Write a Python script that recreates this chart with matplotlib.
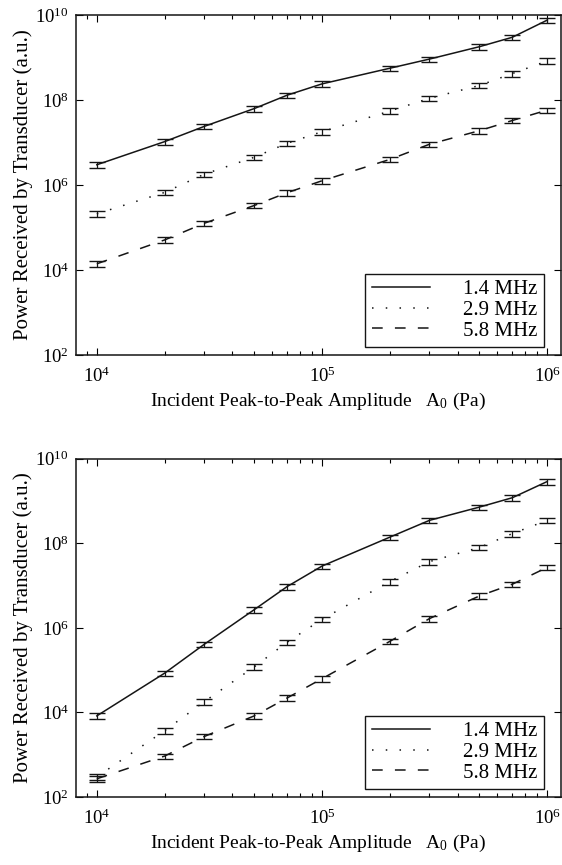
import numpy as np
import matplotlib
matplotlib.use("Agg")
import matplotlib.pyplot as plt
from matplotlib.ticker import LogLocator, NullFormatter, FixedLocator

plt.rcParams["font.family"] = ["Liberation Serif", "DejaVu Serif"]
plt.rcParams["mathtext.fontset"] = "custom"
plt.rcParams["mathtext.rm"] = "Liberation Serif"
plt.rcParams["mathtext.it"] = "Liberation Serif:italic"

# incident amplitude (Pa)
amplitude = [1e4, 2e4, 3e4, 5e4, 7e4, 1e5, 2e5, 3e5, 5e5, 7e5, 1e6]
freq_labels = ["1.4 MHz", "2.9 MHz", "5.8 MHz"]

# received power, upper panel
upper_14 = [3.0e6, 1.05e7, 2.4e7, 6.3e7, 1.3e8, 2.4e8, 5.6e8, 9.2e8, 1.8e9, 3.0e9, 7.6e9]
upper_29 = [2.1e5, 6.7e5, 1.8e6, 4.5e6, 9.6e6, 1.8e7, 5.5e7, 1.1e8, 2.2e8, 4.2e8, 8.3e8]
upper_58 = [1.4e4, 5.1e4, 1.26e5, 3.3e5, 6.6e5, 1.26e6, 4.0e6, 9.1e6, 1.9e7, 3.3e7, 5.8e7]

# received power, lower panel
lower_14 = [8.3e3, 8.5e4, 4.1e5, 2.7e6, 9.5e6, 2.9e7, 1.4e8, 3.5e8, 7.2e8, 1.2e9, 2.9e9]
lower_29 = [3.0e2, 3.7e3, 1.8e4, 1.2e5, 4.6e5, 1.6e6, 1.25e7, 3.7e7, 8.0e7, 1.7e8, 3.5e8]
lower_58 = [2.7e2, 9.3e2, 2.7e3, 8.3e3, 2.2e4, 6.3e4, 4.8e5, 1.66e6, 5.7e6, 1.08e7, 2.7e7]

rel_err = 0.15

styles = ["-", (0, (1.0, 8.0)), (0, (7.0, 8.0))]
ink = "#151515"


def draw_panel(ax, series):
    x = np.array(amplitude)
    for y, ls, lab in zip(series, styles, freq_labels):
        y = np.array(y)
        ax.errorbar(x, y, yerr=rel_err * y, fmt="none", ecolor=ink,
                    capsize=6, elinewidth=0.9, capthick=1.0)
        ax.plot(x, y, color=ink, lw=1.1, linestyle=ls, label=lab)

    ax.set_xscale("log")
    ax.set_yscale("log")
    ax.set_xlim(8070, 1.15e6)
    ax.set_ylim(1e2, 1e10)
    ax.yaxis.set_major_locator(FixedLocator([1e2, 1e4, 1e6, 1e8, 1e10]))
    ax.yaxis.set_minor_locator(FixedLocator([]))
    ax.xaxis.set_major_locator(LogLocator(base=10))
    ax.xaxis.set_minor_locator(LogLocator(base=10, subs=np.arange(2, 10)))
    ax.xaxis.set_minor_formatter(NullFormatter())
    ax.tick_params(which="both", direction="in", top=True, right=True,
                   labelsize=13.5, width=0.8)
    ax.tick_params(axis="x", which="major", length=5, pad=8)
    ax.tick_params(axis="x", which="minor", length=3)
    ax.tick_params(axis="y", which="major", length=5, pad=5)
    for sp in ax.spines.values():
        sp.set_linewidth(1.1)
        sp.set_color(ink)

    ax.set_xlabel(r"Incident Peak-to-Peak Amplitude   A$_{\mathit{0}}$ (Pa)",
                  fontsize=14, labelpad=4)
    ax.set_ylabel("Power Received by Transducer (a.u.)", fontsize=15, labelpad=2)

    leg = ax.legend(loc="lower right", bbox_to_anchor=(0.965, 0.024),
                    borderaxespad=0, fontsize=15, handlelength=2.8,
                    handletextpad=1.6, labelspacing=0.05, borderpad=0.3,
                    fancybox=False, framealpha=1, edgecolor=ink,
                    markerfirst=True)
    leg.get_frame().set_linewidth(1.0)


fig = plt.figure(figsize=(5.62, 8.65), dpi=100)
ax_top = fig.add_axes([0.135, 0.5896, 0.863, 0.393])
ax_bot = fig.add_axes([0.135, 0.0786, 0.863, 0.391])

draw_panel(ax_top, [upper_14, upper_29, upper_58])
draw_panel(ax_bot, [lower_14, lower_29, lower_58])

fig.savefig("out.png", dpi=100)
